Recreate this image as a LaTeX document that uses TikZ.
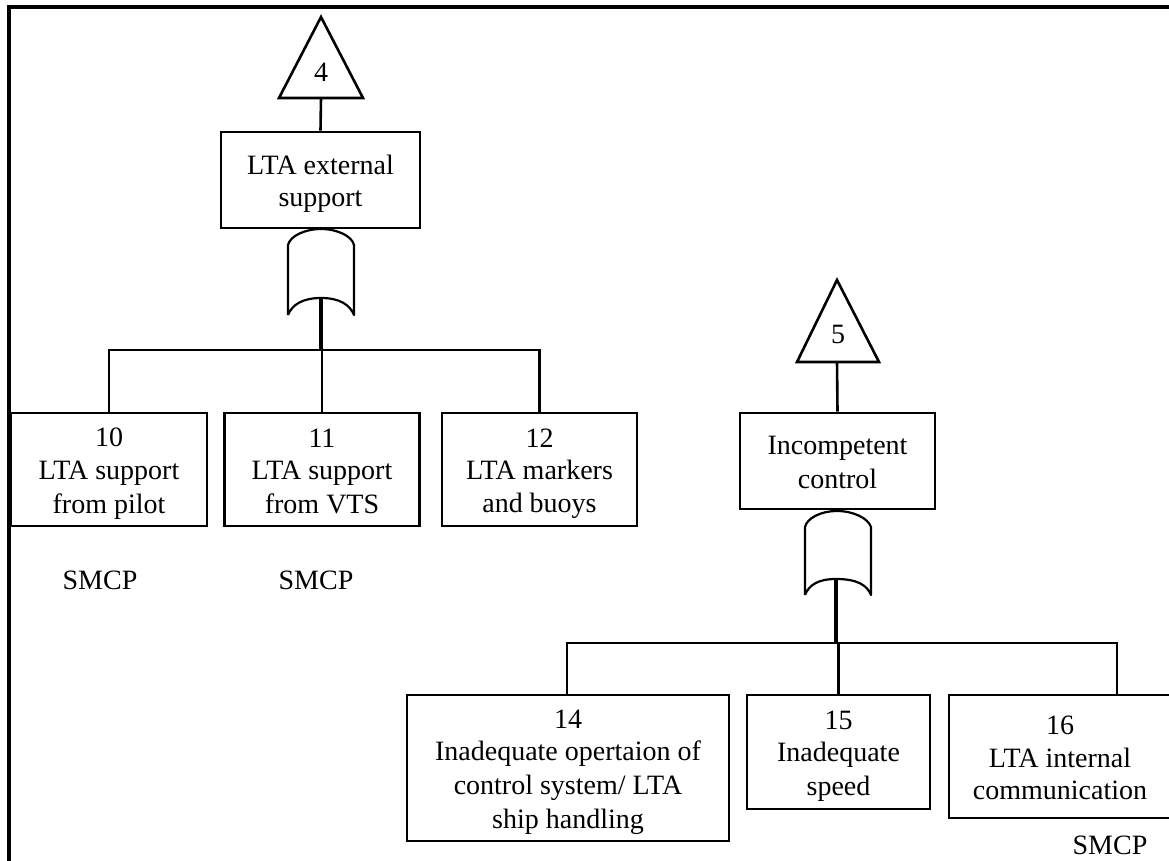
\documentclass[tikz,border=0pt]{standalone}
\usepackage{fontspec}
\setmainfont{Liberation Serif}
% one text line of an event box, with a fixed height and depth
\newcommand{\tline}[1]{#1\rule[-5.5pt]{0pt}{32.5pt}}
\begin{document}
\begin{tikzpicture}[x=1pt,y=-1pt,
  every node/.style={font=\fontsize{28}{32.5}\selectfont},
  event/.style={draw,line width=2.8pt,align=center,inner sep=0pt,anchor=center},
  gateline/.style={line width=2.2pt,line join=round},
  wire/.style={line width=2.6pt},
  trunk/.style={line width=4.6pt},
  frameline/.style={line width=3.6pt}]
\useasboundingbox (0,0) rectangle (1169,861);

% page frame (top and left edges)
\draw[frameline] (9,861) -- (9,7) -- (1172,7);

% ---------- transfer 4: LTA external support ----------
\coordinate (t4a) at (321,17);
\coordinate (t4l) at (279,98);
\coordinate (t4r) at (363,98);
\coordinate (t4b) at (321,98);
\draw[wire,line join=miter] (t4a) -- (t4l) -- (t4r) -- cycle;
\node (t4txt) at (321,72) {4};

\node[event,minimum width=199,minimum height=96] (ext) at (320.5,180)
  {\tline{LTA external}\\\tline{support}};
\draw[wire] (t4b) -- (ext.north);

% OR gate under the event
\coordinate (g1top) at (321,229);
\coordinate (g1out) at (321,298);
\draw[gateline] (288,315) -- (288,245)
  .. controls (290,236) and (305,229) .. (g1top)
  .. controls (337,229) and (352,236) .. (354,245)
  -- (354,315)
  .. controls (350,305) and (340,298) .. (g1out)
  .. controls (302,298) and (292,305) .. (288,315);

\coordinate (bus1) at (321,350);
\node[event,minimum width=196,minimum height=113] (n10) at (109,469.5)
  {\tline{10}\\\tline{LTA support}\\\tline{from pilot}};
\node[event,minimum width=195,minimum height=113] (n11) at (322,469.5)
  {\tline{11}\\\tline{LTA support}\\\tline{from VTS}};
\node[event,minimum width=195,minimum height=113] (n12) at (539.5,469.5)
  {\tline{12}\\\tline{LTA markers}\\\tline{and buoys}};

\draw[trunk] (g1out) -- (bus1);
\draw[wire] (n10.north) |- (bus1) -| (n12.north);
\draw[wire] (n11.north) -- (n11.north |- bus1);

\node (s10) at (100,580) {SMCP};
\node (s11) at (316,580) {SMCP};

% ---------- transfer 5: Incompetent control ----------
\coordinate (t5a) at (837,280);
\coordinate (t5l) at (797,362);
\coordinate (t5r) at (879,362);
\coordinate (t5b) at (837,362);
\draw[wire,line join=miter] (t5a) -- (t5l) -- (t5r) -- cycle;
\node (t5txt) at (838,334) {5};

\node[event,minimum width=195,minimum height=96] (inc) at (837.5,461)
  {\tline{Incompetent}\\\tline{control}};
\draw[wire] (t5b) -- (inc.north);

% OR gate under the event
\coordinate (g2top) at (837,511);
\coordinate (g2out) at (836,579);
\draw[gateline] (805,595) -- (805,527)
  .. controls (807,518) and (821,511) .. (g2top)
  .. controls (853,511) and (868,518) .. (871,527)
  -- (871,595)
  .. controls (867,585) and (857,579) .. (g2out)
  .. controls (818,579) and (809,585) .. (805,595);

\coordinate (bus2) at (836,643);
\node[event,minimum width=322,minimum height=146] (n14) at (568,768)
  {\tline{14}\\\tline{Inadequate opertaion of}\\\tline{control system/ LTA}\\\tline{ship handling}};
\node[event,minimum width=183,minimum height=114] (n15) at (838.5,752)
  {\tline{15}\\\tline{Inadequate}\\\tline{speed}};
\node[event,minimum width=222,minimum height=123] (n16) at (1060,756.5)
  {\tline{16}\\\tline{LTA internal}\\\tline{communication}};

\draw[trunk] (g2out) -- (bus2);
\draw[wire] (n14.north -| 567,0) |- (bus2) -| (n16.north -| 1117,0);
\draw[wire] (n15.north) -- (n15.north |- bus2);

\node (s16) at (1110,845) {SMCP};
\end{tikzpicture}
\end{document}
